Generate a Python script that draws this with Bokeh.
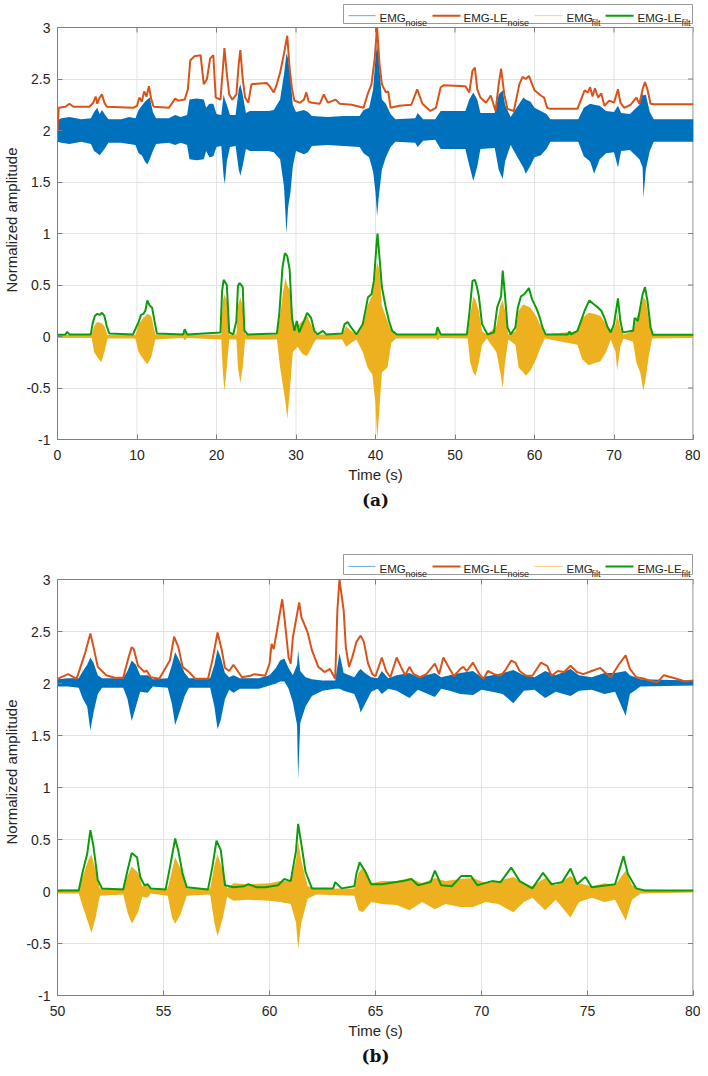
from bokeh.plotting import figure
from bokeh.models import Range1d, Title, FixedTicker
from bokeh.layouts import column
from bokeh.embed import file_html
from bokeh.resources import INLINE
from bokeh.core.properties import value

# ---------------- data ----------------
legend_main = ["EMG", "EMG-LE", "EMG", "EMG-LE"]
legend_sub = ["noise", "noise", "filt", "filt"]

x_ticks_a = [0, 10, 20, 30, 40, 50, 60, 70, 80]
x_ticks_b = [50, 55, 60, 65, 70, 75, 80]
y_ticks = [-1, -0.5, 0, 0.5, 1, 1.5, 2, 2.5, 3]
y_tick_labels = ["-1", "-0.5", "0", "0.5", "1", "1.5", "2", "2.5", "3"]

# ---- panel (a) ----
noise_t_a = [0.0, 0.5, 1.5, 3.0, 4.2, 4.6, 5.0, 5.3, 5.6, 6.0, 6.4, 8.0, 9.0, 9.8, 10.2, 10.6, 11.0, 11.3,
             11.6, 12.0, 12.4, 14.0, 14.8, 15.5, 16.3, 16.6, 17.5, 18.4, 18.7, 19.1, 19.6, 20.0, 20.6,
             20.9, 21.05, 21.3, 21.7, 22.4, 22.8, 23.0, 23.3, 23.7, 24.2, 26.5, 27.2, 28.0, 28.5, 28.8,
             29.0, 29.3, 29.6, 30.0, 31.0, 31.5, 32.0, 34.0, 36.0, 38.0, 38.5, 39.2, 39.7, 40.0, 40.2,
             40.4, 40.8, 41.3, 41.9, 42.5, 45.0, 45.3, 46.0, 47.5, 48.2, 51.3, 51.8, 52.3, 52.8, 53.2,
             55.0, 55.5, 56.0, 56.3, 57.0, 58.0, 58.6, 58.9, 59.5, 60.0, 60.8, 61.5, 62.0, 65.5, 66.2,
             67.0, 67.5, 68.2, 69.0, 70.0, 70.5, 70.9, 72.0, 73.2, 73.6, 73.7, 74.0, 74.5, 75.0, 80.0]
noise_hi_a = [2.10, 2.12, 2.13, 2.11, 2.12, 2.18, 2.22, 2.16, 2.20, 2.15, 2.11, 2.11, 2.13, 2.12, 2.20, 2.24,
              2.28, 2.30, 2.32, 2.18, 2.12, 2.12, 2.15, 2.13, 2.15, 2.30, 2.31, 2.30, 2.22, 2.26, 2.26,
              2.16, 2.15, 2.35, 2.30, 2.25, 2.15, 2.15, 2.40, 2.45, 2.35, 2.17, 2.19, 2.19, 2.20, 2.30,
              2.55, 2.75, 2.70, 2.50, 2.25, 2.18, 2.20, 2.18, 2.14, 2.13, 2.14, 2.14, 2.20, 2.22, 2.40,
              2.70, 2.85, 2.70, 2.30, 2.26, 2.16, 2.11, 2.12, 2.17, 2.11, 2.11, 2.19, 2.19, 2.30, 2.37,
              2.30, 2.17, 2.17, 2.35, 2.39, 2.25, 2.13, 2.25, 2.32, 2.30, 2.28, 2.22, 2.19, 2.16, 2.11,
              2.11, 2.22, 2.26, 2.25, 2.24, 2.19, 2.18, 2.24, 2.17, 2.16, 2.25, 2.36, 2.34, 2.35, 2.18,
              2.11, 2.11]
noise_lo_a = [1.89, 1.88, 1.87, 1.89, 1.87, 1.80, 1.78, 1.76, 1.79, 1.83, 1.88, 1.88, 1.87, 1.86, 1.78, 1.76,
              1.70, 1.67, 1.72, 1.80, 1.87, 1.88, 1.86, 1.88, 1.86, 1.72, 1.71, 1.72, 1.80, 1.74, 1.75,
              1.84, 1.85, 1.55, 1.48, 1.70, 1.84, 1.85, 1.62, 1.56, 1.66, 1.82, 1.80, 1.80, 1.79, 1.72,
              1.45, 1.00, 1.25, 1.40, 1.65, 1.80, 1.77, 1.79, 1.85, 1.86, 1.85, 1.84, 1.78, 1.74, 1.60,
              1.40, 1.17, 1.35, 1.62, 1.74, 1.84, 1.89, 1.88, 1.84, 1.90, 1.91, 1.82, 1.82, 1.66, 1.51,
              1.65, 1.82, 1.83, 1.62, 1.53, 1.70, 1.86, 1.72, 1.64, 1.58, 1.66, 1.74, 1.76, 1.82, 1.89,
              1.89, 1.75, 1.70, 1.58, 1.72, 1.78, 1.79, 1.64, 1.80, 1.81, 1.72, 1.64, 1.35, 1.62, 1.80,
              1.89, 1.89]

le_noise_t_a = [0.0, 0.15, 1.0, 1.5, 2.0, 4.0, 4.5, 4.8, 5.0, 5.3, 5.6, 5.9, 6.2, 9.5, 10.0, 10.3, 10.6, 10.9,
                11.2, 11.5, 11.8, 12.1, 14.0, 14.8, 15.2, 16.0, 16.4, 16.7, 17.2, 18.0, 18.4, 18.8, 19.2,
                19.6, 19.9, 20.5, 20.8, 21.0, 21.3, 21.6, 22.0, 22.5, 22.8, 23.0, 23.3, 23.6, 24.0, 24.4,
                26.3, 26.6, 27.2, 27.5, 28.0, 28.5, 28.9, 29.2, 29.5, 29.8, 30.5, 31.0, 31.3, 31.6, 32.0,
                33.0, 33.5, 34.0, 35.0, 35.5, 37.0, 38.5, 39.0, 39.5, 39.9, 40.2, 40.5, 40.8, 41.3, 41.6,
                41.9, 43.0, 44.5, 45.25, 45.9, 46.9, 47.6, 48.2, 48.6, 51.3, 51.8, 52.2, 52.5, 52.8, 53.2,
                53.9, 54.5, 55.1, 55.5, 55.8, 56.2, 56.6, 57.4, 58.1, 58.5, 58.9, 59.3, 60.0, 60.8, 61.2,
                61.6, 62.0, 65.4, 65.8, 66.3, 66.7, 67.0, 67.3, 67.6, 68.0, 68.4, 68.8, 69.4, 70.0, 70.5,
                70.8, 71.3, 72.1, 72.8, 73.2, 73.6, 73.9, 74.2, 74.6, 75.0, 80.0]
le_noise_a = [2.00, 2.22, 2.23, 2.26, 2.23, 2.23, 2.27, 2.33, 2.26, 2.32, 2.35, 2.27, 2.23, 2.22, 2.24, 2.32,
              2.28, 2.38, 2.33, 2.43, 2.30, 2.23, 2.22, 2.31, 2.29, 2.30, 2.40, 2.68, 2.72, 2.73, 2.45,
              2.50, 2.70, 2.73, 2.32, 2.30, 2.60, 2.80, 2.55, 2.35, 2.30, 2.35, 2.65, 2.78, 2.50, 2.32,
              2.27, 2.45, 2.46, 2.44, 2.37, 2.43, 2.56, 2.75, 2.92, 2.60, 2.40, 2.29, 2.27, 2.30, 2.37,
              2.28, 2.27, 2.26, 2.35, 2.27, 2.30, 2.26, 2.25, 2.22, 2.35, 2.45, 2.70, 3.00, 2.65, 2.45,
              2.37, 2.38, 2.22, 2.24, 2.25, 2.40, 2.26, 2.19, 2.22, 2.42, 2.44, 2.43, 2.37, 2.58, 2.61,
              2.40, 2.32, 2.27, 2.34, 2.19, 2.45, 2.60, 2.35, 2.21, 2.19, 2.45, 2.52, 2.50, 2.53, 2.39,
              2.34, 2.32, 2.22, 2.21, 2.21, 2.29, 2.39, 2.37, 2.42, 2.33, 2.41, 2.32, 2.36, 2.24, 2.29,
              2.27, 2.40, 2.27, 2.22, 2.25, 2.32, 2.26, 2.40, 2.47, 2.40, 2.26, 2.255, 2.255]

filt_t_a = [0.0, 4.3, 4.6, 5.0, 5.5, 5.9, 6.3, 9.8, 10.2, 10.8, 11.3, 11.8, 12.3, 15.8, 16.0, 16.3, 20.6,
            20.8, 21.0, 21.3, 21.6, 22.5, 22.7, 23.0, 23.3, 23.6, 27.6, 28.0, 28.4, 28.7, 28.9, 29.2,
            29.6, 30.2, 30.8, 31.4, 32.0, 32.5, 35.8, 36.3, 37.0, 37.6, 38.4, 39.0, 39.6, 40.0, 40.2,
            40.5, 40.8, 41.5, 42.0, 42.6, 47.6, 47.8, 48.1, 51.6, 51.9, 52.3, 52.6, 53.0, 53.4, 54.0,
            55.2, 55.7, 56.0, 56.3, 56.7, 57.6, 58.0, 58.6, 58.9, 59.5, 60.2, 60.8, 61.3, 65.4, 66.0,
            66.8, 67.5, 68.3, 69.0, 69.6, 70.2, 70.4, 70.8, 71.2, 72.4, 72.8, 73.3, 73.7, 74.0, 74.4,
            74.8, 80.0]
filt_hi_a = [0.015, 0.015, 0.10, 0.14, 0.13, 0.10, 0.015, 0.015, 0.12, 0.18, 0.22, 0.20, 0.02, 0.015, 0.06,
             0.015, 0.02, 0.35, 0.41, 0.35, 0.02, 0.02, 0.30, 0.38, 0.30, 0.02, 0.02, 0.20, 0.45, 0.57,
             0.50, 0.45, 0.10, 0.10, 0.15, 0.20, 0.10, 0.02, 0.02, 0.10, 0.05, 0.02, 0.10, 0.30, 0.40,
             0.60, 0.73, 0.64, 0.30, 0.15, 0.05, 0.02, 0.02, 0.07, 0.015, 0.02, 0.20, 0.39, 0.35, 0.25,
             0.05, 0.02, 0.10, 0.30, 0.35, 0.25, 0.02, 0.05, 0.25, 0.31, 0.30, 0.28, 0.20, 0.10, 0.02,
             0.05, 0.18, 0.23, 0.22, 0.20, 0.12, 0.03, 0.12, 0.22, 0.08, 0.02, 0.05, 0.18, 0.25, 0.38,
             0.35, 0.15, 0.02, 0.015]
filt_lo_a = [-0.015, -0.015, -0.15, -0.20, -0.25, -0.15, -0.02, -0.02, -0.15, -0.22, -0.27, -0.20, -0.03,
             -0.015, -0.04, -0.015, -0.03, -0.35, -0.53, -0.30, -0.03, -0.03, -0.30, -0.45, -0.30, -0.03,
             -0.03, -0.30, -0.50, -0.65, -0.80, -0.55, -0.15, -0.10, -0.17, -0.19, -0.10, -0.03, -0.03,
             -0.10, -0.06, -0.03, -0.15, -0.30, -0.37, -0.65, -1.00, -0.70, -0.35, -0.30, -0.06, -0.02,
             -0.02, -0.04, -0.015, -0.02, -0.25, -0.35, -0.38, -0.25, -0.08, -0.02, -0.15, -0.35, -0.50,
             -0.25, -0.03, -0.08, -0.30, -0.35, -0.38, -0.33, -0.22, -0.10, -0.02, -0.08, -0.22, -0.28,
             -0.26, -0.24, -0.15, -0.03, -0.15, -0.33, -0.10, -0.02, -0.05, -0.25, -0.35, -0.53, -0.40,
             -0.18, -0.02, -0.015]

le_filt_t_a = [0.0, 1.0, 1.2, 1.5, 4.2, 4.4, 4.7, 5.0, 5.3, 5.6, 5.9, 6.2, 6.5, 9.5, 9.9, 10.2, 10.5, 10.8,
               11.05, 11.3, 11.6, 11.9, 12.2, 12.5, 15.8, 16.0, 16.3, 20.5, 20.7, 20.9, 21.3, 21.6, 22.1,
               22.5, 22.7, 22.9, 23.3, 23.5, 23.9, 27.6, 27.9, 28.1, 28.3, 28.6, 28.9, 29.2, 29.5, 29.8,
               30.1, 30.4, 31.0, 31.4, 31.9, 32.3, 32.7, 33.4, 33.8, 35.8, 36.1, 36.5, 36.9, 37.6, 38.4,
               39.05, 39.5, 39.8, 40.1, 40.25, 40.5, 40.8, 41.3, 41.7, 42.1, 42.7, 47.6, 47.8, 48.2, 51.5,
               51.8, 52.2, 52.5, 52.7, 53.0, 53.4, 54.1, 54.9, 55.3, 55.8, 56.0, 56.3, 56.6, 57.0, 57.6,
               57.9, 58.3, 58.7, 59.3, 59.7, 60.2, 60.6, 61.0, 61.4, 64.2, 64.4, 64.6, 65.4, 65.8, 66.3,
               66.9, 67.5, 68.0, 68.4, 68.8, 69.2, 69.6, 70.0, 70.5, 70.8, 71.1, 72.4, 72.6, 73.0, 73.3,
               73.6, 73.9, 74.2, 74.6, 74.9, 80.0]
le_filt_a = [0.016, 0.02, 0.045, 0.02, 0.02, 0.12, 0.20, 0.22, 0.21, 0.23, 0.20, 0.10, 0.03, 0.02, 0.09,
             0.14, 0.21, 0.22, 0.25, 0.35, 0.30, 0.28, 0.15, 0.03, 0.02, 0.07, 0.02, 0.04, 0.44, 0.55,
             0.50, 0.04, 0.02, 0.15, 0.49, 0.52, 0.48, 0.06, 0.02, 0.03, 0.22, 0.44, 0.67, 0.81, 0.78,
             0.65, 0.18, 0.055, 0.15, 0.04, 0.15, 0.23, 0.18, 0.055, 0.02, 0.055, 0.02, 0.03, 0.12, 0.14,
             0.09, 0.02, 0.12, 0.38, 0.41, 0.54, 0.86, 1.00, 0.77, 0.48, 0.28, 0.15, 0.055, 0.02, 0.02,
             0.09, 0.02, 0.02, 0.22, 0.54, 0.55, 0.50, 0.39, 0.12, 0.02, 0.04, 0.28, 0.39, 0.64, 0.39,
             0.09, 0.02, 0.09, 0.28, 0.39, 0.41, 0.47, 0.36, 0.28, 0.20, 0.09, 0.02, 0.02, 0.05, 0.02,
             0.055, 0.14, 0.25, 0.35, 0.31, 0.28, 0.25, 0.18, 0.09, 0.04, 0.12, 0.37, 0.15, 0.04, 0.055,
             0.18, 0.15, 0.28, 0.41, 0.48, 0.35, 0.09, 0.016, 0.016]

# ---- panel (b) ----
noise_t_b = [50.0, 50.5, 51.0, 51.2, 51.4, 51.55, 51.7, 51.9, 52.1, 53.1, 53.3, 53.5, 53.7, 53.9, 54.25, 54.5,
             55.2, 55.4, 55.55, 55.75, 56.0, 56.2, 57.2, 57.4, 57.55, 57.7, 57.9, 58.1, 58.3, 58.6, 59.5,
             60.0, 60.3, 60.5, 60.7, 60.9, 61.1, 61.3, 61.35, 61.45, 61.7, 62.0, 62.5, 63.1, 63.3, 63.5,
             64.0, 64.2, 64.3, 64.5, 64.8, 65.1, 65.3, 65.6, 66.0, 66.6, 67.0, 67.8, 68.1, 68.5, 69.0,
             69.6, 70.0, 70.5, 71.0, 71.5, 72.0, 72.5, 73.0, 73.5, 74.2, 74.6, 75.2, 75.8, 76.3, 76.8,
             77.0, 77.5, 80.0]
noise_hi_b = [2.04, 2.05, 2.05, 2.12, 2.18, 2.25, 2.20, 2.08, 2.05, 2.05, 2.12, 2.22, 2.18, 2.08, 2.08, 2.04,
              2.05, 2.18, 2.30, 2.22, 2.10, 2.05, 2.05, 2.18, 2.33, 2.25, 2.10, 2.06, 2.08, 2.05, 2.05,
              2.08, 2.15, 2.22, 2.24, 2.15, 2.08, 2.18, 2.32, 2.12, 2.06, 2.04, 2.03, 2.03, 2.29, 2.10,
              2.06, 2.12, 2.14, 2.10, 2.06, 2.05, 2.12, 2.05, 2.08, 2.10, 2.06, 2.10, 2.06, 2.08, 2.10,
              2.12, 2.06, 2.08, 2.10, 2.13, 2.08, 2.06, 2.12, 2.08, 2.14, 2.08, 2.06, 2.10, 2.10, 2.12,
              2.08, 2.04, 2.03]
noise_lo_b = [1.97, 1.97, 1.96, 1.85, 1.78, 1.55, 1.72, 1.90, 1.96, 1.96, 1.85, 1.64, 1.78, 1.92, 1.91, 1.97,
              1.96, 1.80, 1.60, 1.72, 1.88, 1.96, 1.96, 1.78, 1.56, 1.65, 1.85, 1.94, 1.91, 1.95, 1.95,
              1.98, 2.00, 2.02, 2.02, 1.95, 1.82, 1.60, 1.08, 1.62, 1.78, 1.88, 1.93, 1.95, 1.95, 1.93,
              1.90, 1.80, 1.72, 1.80, 1.92, 1.95, 1.90, 1.95, 1.93, 1.86, 1.94, 1.87, 1.95, 1.93, 1.90,
              1.89, 1.94, 1.92, 1.90, 1.81, 1.93, 1.94, 1.86, 1.92, 1.88, 1.93, 1.94, 1.90, 1.92, 1.69,
              1.90, 1.97, 1.98]

le_noise_t_b = [50.0, 50.5, 50.9, 51.3, 51.55, 51.7, 51.9, 52.3, 52.7, 53.1, 53.35, 53.5, 53.6, 53.8, 54.1,
                54.2, 54.4, 54.8, 55.3, 55.5, 55.7, 55.9, 56.2, 56.5, 57.1, 57.3, 57.55, 57.75, 57.9, 58.1,
                58.3, 58.5, 58.7, 59.1, 59.3, 59.8, 60.0, 60.1, 60.2, 60.4, 60.6, 60.7, 60.9, 61.0, 61.1,
                61.4, 61.5, 61.8, 62.0, 62.3, 62.6, 62.85, 63.1, 63.2, 63.3, 63.5, 63.6, 63.75, 63.9, 64.1,
                64.3, 64.45, 64.65, 64.85, 65.0, 65.3, 65.5, 65.7, 66.0, 66.2, 66.4, 66.6, 66.8, 67.1, 67.4,
                67.8, 68.0, 68.2, 68.5, 68.7, 69.0, 69.15, 69.3, 69.6, 69.9, 70.1, 70.3, 70.6, 70.9, 71.1,
                71.4, 71.6, 71.8, 72.1, 72.4, 72.8, 73.1, 73.3, 73.6, 73.9, 74.2, 74.5, 74.8, 75.2, 75.6,
                75.8, 76.1, 76.5, 76.8, 77.0, 77.3, 77.7, 77.9, 78.3, 78.6, 79.2, 79.6, 80.0]
le_noise_b = [2.045, 2.09, 2.045, 2.29, 2.48, 2.35, 2.16, 2.08, 2.055, 2.055, 2.25, 2.35, 2.33, 2.17, 2.11,
              2.125, 2.06, 2.045, 2.22, 2.45, 2.35, 2.16, 2.11, 2.045, 2.045, 2.22, 2.49, 2.32, 2.15, 2.12,
              2.18, 2.12, 2.06, 2.075, 2.09, 2.075, 2.19, 2.38, 2.33, 2.57, 2.81, 2.64, 2.25, 2.19, 2.44,
              2.78, 2.64, 2.49, 2.32, 2.16, 2.11, 2.14, 2.045, 2.70, 3.00, 2.70, 2.35, 2.16, 2.25, 2.40,
              2.46, 2.40, 2.19, 2.09, 2.07, 2.25, 2.12, 2.06, 2.25, 2.16, 2.08, 2.16, 2.09, 2.06, 2.09,
              2.19, 2.09, 2.25, 2.14, 2.07, 2.14, 2.16, 2.12, 2.20, 2.09, 2.045, 2.12, 2.09, 2.075, 2.12,
              2.22, 2.20, 2.12, 2.075, 2.075, 2.20, 2.17, 2.075, 2.12, 2.11, 2.17, 2.11, 2.09, 2.12, 2.15,
              2.11, 2.06, 2.19, 2.27, 2.14, 2.06, 2.045, 2.03, 2.01, 2.08, 2.045, 2.02, 2.03]

filt_t_b = [50.0, 51.0, 51.2, 51.45, 51.6, 51.8, 52.0, 53.1, 53.3, 53.5, 53.8, 54.0, 54.25, 54.4, 55.2, 55.4,
            55.55, 55.8, 56.1, 57.2, 57.4, 57.55, 57.8, 58.0, 58.3, 59.0, 60.0, 60.5, 61.0, 61.25, 61.35,
            61.5, 61.8, 62.2, 64.0, 64.2, 64.4, 64.8, 65.3, 66.0, 66.6, 67.2, 67.8, 68.3, 69.0, 69.6,
            70.2, 70.8, 71.5, 72.0, 72.4, 73.0, 73.5, 74.2, 74.6, 75.2, 75.8, 76.3, 76.8, 77.1, 77.5, 80.0]
filt_hi_b = [0.02, 0.02, 0.15, 0.30, 0.36, 0.20, 0.03, 0.03, 0.15, 0.24, 0.18, 0.05, 0.07, 0.02, 0.03, 0.20,
             0.33, 0.22, 0.03, 0.03, 0.25, 0.36, 0.20, 0.03, 0.08, 0.07, 0.08, 0.10, 0.10, 0.30, 0.48,
             0.30, 0.05, 0.03, 0.03, 0.18, 0.23, 0.08, 0.10, 0.10, 0.13, 0.08, 0.13, 0.10, 0.12, 0.13,
             0.08, 0.10, 0.14, 0.08, 0.05, 0.13, 0.06, 0.15, 0.08, 0.05, 0.08, 0.06, 0.20, 0.06, 0.02, 0.01]
filt_lo_b = [-0.02, -0.02, -0.15, -0.30, -0.40, -0.25, -0.04, -0.03, -0.20, -0.31, -0.20, -0.05, -0.06, -0.02,
             -0.04, -0.25, -0.31, -0.22, -0.04, -0.03, -0.30, -0.43, -0.25, -0.05, -0.09, -0.08, -0.09,
             -0.10, -0.12, -0.30, -0.55, -0.30, -0.07, -0.03, -0.04, -0.18, -0.20, -0.10, -0.12, -0.13,
             -0.18, -0.10, -0.17, -0.12, -0.15, -0.15, -0.10, -0.12, -0.20, -0.10, -0.06, -0.18, -0.08,
             -0.25, -0.10, -0.06, -0.10, -0.08, -0.28, -0.08, -0.02, -0.01]

le_filt_t_b = [50.0, 51.0, 51.2, 51.4, 51.55, 51.7, 51.9, 52.1, 53.1, 53.3, 53.5, 53.75, 53.9, 54.1, 54.25,
               54.4, 55.1, 55.3, 55.55, 55.7, 55.9, 56.1, 57.1, 57.3, 57.5, 57.7, 57.9, 58.3, 58.8, 59.0,
               59.4, 59.8, 60.4, 60.7, 61.0, 61.25, 61.35, 61.5, 61.7, 62.0, 63.0, 63.1, 63.4, 64.0, 64.1,
               64.25, 64.5, 64.8, 65.3, 66.3, 66.7, 67.0, 67.6, 67.8, 68.1, 68.6, 69.05, 69.5, 69.8, 70.5,
               70.9, 71.4, 71.8, 72.4, 72.9, 73.3, 73.8, 74.2, 74.5, 74.9, 75.2, 76.3, 76.7, 76.9, 77.3,
               77.7, 80.0]
le_filt_b = [0.01, 0.01, 0.20, 0.36, 0.59, 0.43, 0.11, 0.03, 0.02, 0.20, 0.37, 0.33, 0.14, 0.06, 0.07, 0.03,
             0.02, 0.23, 0.51, 0.39, 0.17, 0.04, 0.02, 0.23, 0.49, 0.40, 0.06, 0.04, 0.05, 0.07, 0.04,
             0.04, 0.06, 0.12, 0.10, 0.39, 0.65, 0.46, 0.19, 0.03, 0.03, 0.09, 0.03, 0.05, 0.17, 0.28,
             0.20, 0.07, 0.07, 0.10, 0.12, 0.06, 0.09, 0.20, 0.06, 0.05, 0.15, 0.15, 0.06, 0.10, 0.09,
             0.23, 0.10, 0.03, 0.18, 0.07, 0.09, 0.22, 0.07, 0.14, 0.04, 0.07, 0.34, 0.17, 0.03, 0.01,
             0.01]

# ---------------- styling / layout ----------------
C_BLUE = "#0072BD"
C_ORANGE = "#D95319"
C_YELLOW = "#EDB120"
C_GREEN = "#0C9C0C"
FONT = "Liberation Sans"
TXT = "#262626"
AX = "#7F7F7F"
GRID = "#E3E3E3"
W = 700
BL = 57          # left border (px)
BR = 7           # right border (px)


def make_panel(height, xr, xticks, extra_top_px, px_per_unit, bb, caption,
               nt, nhi, nlo, lnt, ln, ft, fhi, flo, lft, lf, legend_box_top_px, legend_box_h):
    frame_w = W - BL - BR
    px_per_x = frame_w / (xr[1] - xr[0])
    y_top = 3 + extra_top_px / px_per_unit

    def dx(px):          # px from frame left -> data x
        return xr[0] + px / px_per_x

    def dy(px):          # px below the y=3 line -> data y
        return 3 - px / px_per_unit

    p = figure(width=W, height=height, x_range=Range1d(*xr), y_range=Range1d(-1, y_top),
               toolbar_location=None, output_backend="svg",
               min_border_left=BL, min_border_right=BR, min_border_top=0, min_border_bottom=bb)
    p.xgrid.visible = False
    p.ygrid.ticker = FixedTicker(ticks=y_ticks)
    p.ygrid.grid_line_color = GRID

    # vertical grid lines, top/right frame lines and inward ticks (limited to the axes box)
    n = len(xticks)
    m = len(y_ticks)
    x_right = dx(frame_w - 0.5)
    p.segment(x0=xticks, y0=[-1] * n, x1=xticks, y1=[3] * n, line_color=GRID, line_width=1)
    p.segment(x0=[xr[0]], y0=[3], x1=[xr[1]], y1=[3], line_color=AX, line_width=1)
    p.segment(x0=[x_right], y0=[-1], x1=[x_right], y1=[3], line_color=AX, line_width=1)
    p.segment(x0=xticks, y0=[3] * n, x1=xticks, y1=[dy(5)] * n, line_color=AX, line_width=1)
    p.segment(x0=[x_right] * m, y0=y_ticks, x1=[dx(frame_w - 5.5)] * m, y1=y_ticks,
              line_color=AX, line_width=1)

    # data
    p.varea(x=nt, y1=nlo, y2=nhi, fill_color=C_BLUE)
    p.line(lnt, ln, line_color=C_ORANGE, line_width=2)
    p.varea(x=ft, y1=flo, y2=fhi, fill_color=C_YELLOW)
    p.line(lft, lf, line_color=C_GREEN, line_width=2)

    # axes
    p.xaxis.ticker = FixedTicker(ticks=xticks)
    p.yaxis.ticker = FixedTicker(ticks=y_ticks)
    p.yaxis.bounds = (-1, 3)
    p.yaxis.major_label_overrides = {t: s for t, s in zip(y_ticks, y_tick_labels)}
    p.xaxis.major_label_overrides = {t: str(t) for t in xticks}
    for ax in (p.xaxis[0], p.yaxis[0]):
        ax.major_tick_in = 5
        ax.major_tick_out = 0
        ax.minor_tick_line_color = None
        ax.axis_line_color = AX
        ax.major_tick_line_color = AX
        ax.major_label_text_font = FONT
        ax.major_label_text_font_size = "14px"
        ax.major_label_text_color = TXT
        ax.axis_label_text_font = FONT
        ax.axis_label_text_font_size = "15px"
        ax.axis_label_text_font_style = "normal"
        ax.axis_label_text_color = TXT
    p.xaxis[0].axis_label = "Time (s)"
    p.yaxis[0].axis_label = "Normalized amplitude"
    p.xaxis[0].major_label_standoff = 10
    p.yaxis[0].major_label_standoff = 7
    p.xaxis[0].axis_label_standoff = 3
    p.yaxis[0].axis_label_standoff = 3
    p.outline_line_color = None
    p.background_fill_color = "white"

    # legend box (in the strip above y = 3)
    box_l_px = frame_w - 350
    box_r_px = frame_w - 1
    bt = legend_box_top_px
    bbot = legend_box_top_px + legend_box_h
    p.quad(left=[dx(box_l_px)], right=[dx(box_r_px)], top=[dy(bt)], bottom=[dy(bbot)],
           fill_color="white", line_color="#9A9A9A", line_width=1)
    line_x = [(5, 32), (89, 117), (191, 219), (262, 290)]
    main_x = [36, 120, 223, 294]
    sub_x = [62, 164, 248, 338]
    cols = [C_BLUE, C_ORANGE, C_YELLOW, C_GREEN]
    widths = [1, 2, 1, 2]
    alphas = [0.6, 1, 0.6, 1]
    base_main = bt + legend_box_h * 0.72
    base_sub = bbot - 1
    line_y = base_main - 2.5
    for i in range(4):
        p.line([dx(box_l_px + line_x[i][0]), dx(box_l_px + line_x[i][1])], [dy(line_y)] * 2,
               line_color=cols[i], line_width=widths[i], line_alpha=alphas[i])
    p.text(x=[dx(box_l_px + v) for v in main_x], y=[dy(base_main)] * 4, text=legend_main,
           text_font=value(FONT), text_font_size="11.5px", text_color=TXT,
           text_align="left", text_baseline="alphabetic")
    p.text(x=[dx(box_l_px + v) for v in sub_x], y=[dy(base_sub)] * 4, text=legend_sub,
           text_font=value(FONT), text_font_size="9px", text_color=TXT,
           text_align="left", text_baseline="alphabetic")

    p.add_layout(Title(text=caption, align="center", text_font="DejaVu Serif",
                       text_font_style="bold", text_font_size="17px", text_color="#111111",
                       standoff=5), "below")
    return p


# panel (a): axes box top (y=3) 27 px below the figure top; 103 px per unit
pa = make_panel(548, (0, 80), x_ticks_a, 27, 103.0, 109, "(a)",
                noise_t_a, noise_hi_a, noise_lo_a, le_noise_t_a, le_noise_a,
                filt_t_a, filt_hi_a, filt_lo_a, le_filt_t_a, le_filt_a, -23, 19)
# panel (b): axes box top 31 px below the figure top; 104 px per unit
pb = make_panel(520, (50, 80), x_ticks_b, 31, 104.0, 73, "(b)",
                noise_t_b, noise_hi_b, noise_lo_b, le_noise_t_b, le_noise_b,
                filt_t_b, filt_hi_b, filt_lo_b, le_filt_t_b, le_filt_b, -25, 20)

layout = column(pa, pb, spacing=0)
open("out.html", "w").write(file_html(layout, INLINE))
